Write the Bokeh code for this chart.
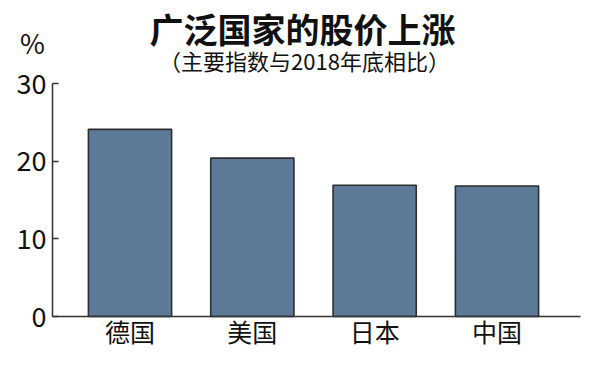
from bokeh.plotting import figure
from bokeh.models import Range1d, FixedTicker, ColumnDataSource
from bokeh.core.properties import value
from bokeh.embed import file_html
from bokeh.resources import INLINE

countries = ["德国", "美国", "日本", "中国"]
gains = [24.1, 20.4, 16.9, 16.8]
y_ticks = [0, 10, 20, 30]

title_text = "广泛国家的股价上涨"
subtitle_text = "（主要指数与2018年底相比）"
unit_text = "%"

FONT = "Noto Sans CJK SC"
INK = "#111111"
AX = "#333333"

positions = list(range(len(countries)))

# frame fills the whole canvas; axes are pinned inside it
p = figure(width=584, height=356, min_border=0,
           x_range=Range1d(-1.0586, 3.7154), y_range=Range1d(-5.15, 40.69),
           output_backend="svg", toolbar_location=None)
p.extra_x_ranges = {"px": Range1d(0, 584)}
p.extra_y_ranges = {"px": Range1d(356, 0)}

src = ColumnDataSource(dict(pos=positions, gain=gains, country=countries))
p.vbar(x="pos", top="gain", width=0.68, source=src,
       fill_color="#5d7b99", line_color="#2e2e2e", line_width=1.6)

p.xgrid.visible = False
p.ygrid.visible = False
p.outline_line_color = None

ya = p.yaxis[0]
ya.fixed_location = -0.6335
ya.bounds = (0, 30)
ya.ticker = FixedTicker(ticks=y_ticks)
ya.major_tick_in = 6
ya.major_tick_out = 0
ya.minor_tick_line_color = None
ya.axis_line_color = AX
ya.axis_line_width = 1.5
ya.major_tick_line_color = AX
ya.major_tick_line_width = 1.5
ya.major_label_text_font = FONT
ya.major_label_text_font_size = "27px"
ya.major_label_text_color = INK
ya.major_label_standoff = 6

xa = p.xaxis[0]
xa.fixed_location = 0
xa.bounds = (-0.6335, 3.6826)
xa.ticker = FixedTicker(ticks=positions)
xa.major_label_overrides = {i: c for i, c in zip(positions, countries)}
xa.major_tick_line_color = None
xa.minor_tick_line_color = None
xa.axis_line_color = AX
xa.axis_line_width = 1.5
xa.major_label_text_font = FONT
xa.major_label_text_font_size = "25px"
xa.major_label_text_color = INK
xa.major_label_standoff = -10

p.text(x=[302], y=[28], text=[title_text], x_range_name="px", y_range_name="px",
       text_font=value(FONT), text_font_size="34px", text_font_style="bold",
       text_align="center", text_baseline="middle", text_color=INK)
p.text(x=[304], y=[59], text=[subtitle_text], x_range_name="px", y_range_name="px",
       text_font=value(FONT), text_font_size="22px",
       text_align="center", text_baseline="middle", text_color=INK)
p.text(x=[32], y=[42], text=[unit_text], x_range_name="px", y_range_name="px",
       text_font=value(FONT), text_font_size="27px",
       text_align="center", text_baseline="middle", text_color=INK)

open("out.html", "w").write(file_html(p, INLINE))
